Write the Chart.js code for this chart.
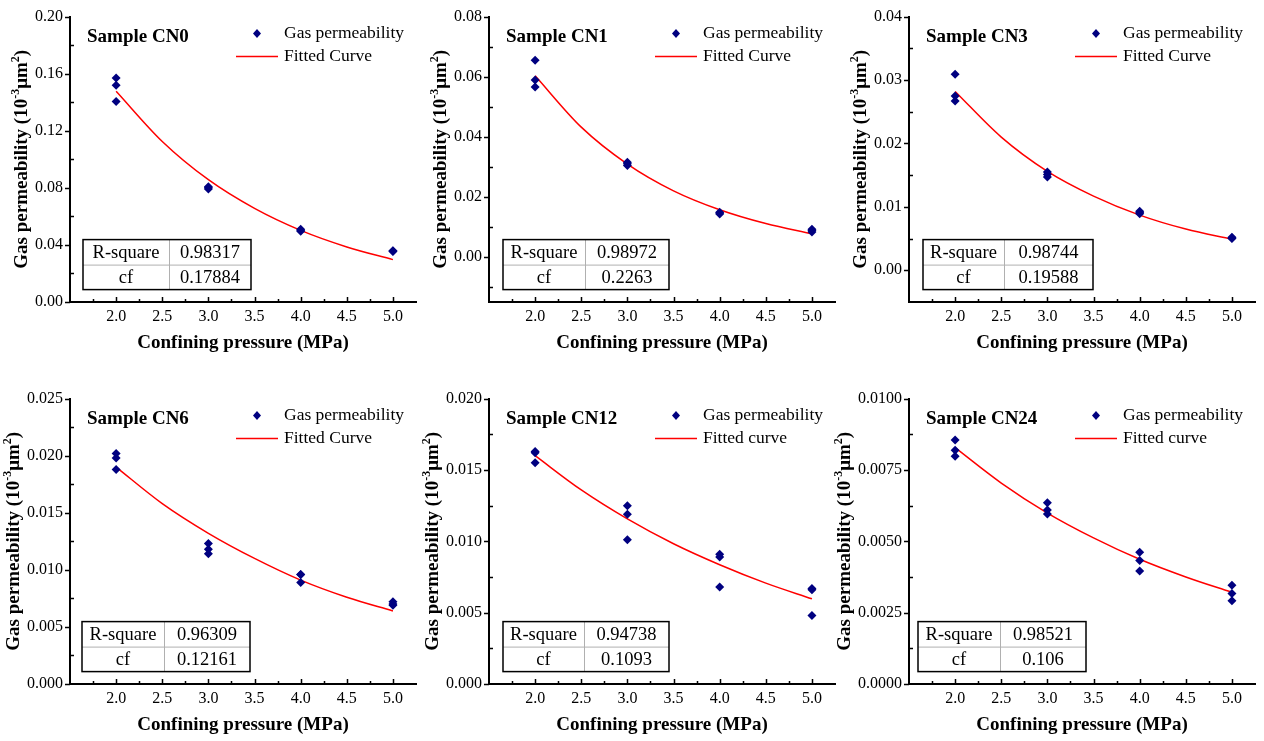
<!DOCTYPE html>
<html>
<head>
<meta charset="utf-8">
<script src="https://cdn.jsdelivr.net/npm/chart.js@4.4.0/dist/chart.umd.min.js"></script>
<style>
  body { margin: 0; background: #fff; width: 1264px; height: 741px; overflow: hidden; position: relative; }
  .panel { position: absolute; }
</style>
</head>
<body>
<div class="panel" style="left:0px;top:0px;width:421px;height:359px"><canvas id="c0"></canvas></div>
<div class="panel" style="left:420px;top:0px;width:421px;height:359px"><canvas id="c1"></canvas></div>
<div class="panel" style="left:830px;top:0px;width:434px;height:359px"><canvas id="c2"></canvas></div>
<div class="panel" style="left:0px;top:382px;width:421px;height:359px"><canvas id="c3"></canvas></div>
<div class="panel" style="left:420px;top:382px;width:421px;height:359px"><canvas id="c4"></canvas></div>
<div class="panel" style="left:830px;top:382px;width:434px;height:359px"><canvas id="c5"></canvas></div>

<script>
// ---- data ----
const samples = ['Sample CN0', 'Sample CN1', 'Sample CN3', 'Sample CN6', 'Sample CN12', 'Sample CN24'];
const fitNames = ['Fitted Curve', 'Fitted Curve', 'Fitted Curve', 'Fitted Curve', 'Fitted curve', 'Fitted curve'];
const rSquare = ['0.98317', '0.98972', '0.98744', '0.96309', '0.94738', '0.98521'];
const cfValues = ['0.17884', '0.2263', '0.19588', '0.12161', '0.1093', '0.106'];

const pressure = [2, 2, 2, 3, 3, 3, 4, 4, 4, 5, 5, 5];
const permCN0 = [0.1570, 0.1519, 0.1405, 0.0808, 0.0800, 0.0792, 0.0510, 0.0502, 0.0496, 0.0360, 0.0357, 0.0354];
const permCN1 = [0.0655, 0.0589, 0.0566, 0.0315, 0.0310, 0.0304, 0.0149, 0.0146, 0.0143, 0.0092, 0.0088, 0.0083];
const permCN3 = [0.0309, 0.0275, 0.0267, 0.0155, 0.0151, 0.0147, 0.0093, 0.0091, 0.0089, 0.0052, 0.0051, 0.0050];
const permCN6 = [0.0202, 0.0198, 0.0188, 0.0123, 0.0118, 0.0114, 0.0096, 0.0096, 0.0089, 0.0072, 0.0070, 0.0069];
const permCN12 = [0.0163, 0.0162, 0.0155, 0.0125, 0.0119, 0.0101, 0.0091, 0.0089, 0.0068, 0.0067, 0.0066, 0.0048];
const permCN24 = [0.00855, 0.00819, 0.00798, 0.00635, 0.00610, 0.00596, 0.00462, 0.00433, 0.00396, 0.00346, 0.00317, 0.00292];

const fitPressure = [2.0, 2.5, 3.0, 3.5, 4.0, 4.5, 5.0];
const fitCN0 = [0.1477, 0.1125, 0.0857, 0.0656, 0.0502, 0.0386, 0.0297];
const fitCN1 = [0.0603, 0.0432, 0.0309, 0.0220, 0.0157, 0.0111, 0.0077];
const fitCN3 = [0.0282, 0.0210, 0.0156, 0.0117, 0.0087, 0.0065, 0.0049];
const fitCN6 = [0.0190, 0.0158, 0.0132, 0.0110, 0.0091, 0.0076, 0.0064];
const fitCN12 = [0.0160, 0.0136, 0.01157, 0.00983, 0.00836, 0.00707, 0.00597];
const fitCN24 = [0.00828, 0.00704, 0.00599, 0.00512, 0.00437, 0.00375, 0.00321];

const xTicks = [2.0, 2.5, 3.0, 3.5, 4.0, 4.5, 5.0];
const yTicksCN0 = [0, 0.04, 0.08, 0.12, 0.16, 0.20];
const yTicksCN1 = [0, 0.02, 0.04, 0.06, 0.08];
const yTicksCN3 = [0, 0.01, 0.02, 0.03, 0.04];
const yTicksCN6 = [0, 0.005, 0.010, 0.015, 0.020, 0.025];
const yTicksCN12 = [0, 0.005, 0.010, 0.015, 0.020];
const yTicksCN24 = [0, 0.0025, 0.0050, 0.0075, 0.0100];
const yMin = [0, -0.015, -0.005, 0, 0, 0];
const yMax = [0.20, 0.08, 0.04, 0.025, 0.020, 0.0100];
const yDecimals = [2, 2, 2, 3, 3, 4];

const permSets = [permCN0, permCN1, permCN3, permCN6, permCN12, permCN24];
const fitSets = [fitCN0, fitCN1, fitCN3, fitCN6, fitCN12, fitCN24];
const yTickSets = [yTicksCN0, yTicksCN1, yTicksCN3, yTicksCN6, yTicksCN12, yTicksCN24];

// ---- layout ----
const axisWidth = [70, 69, 79, 70, 69, 79];
const padRight = [5, 6, 9, 5, 6, 9];
const tableCols = [[13, 99, 181], [14, 96, 180], [14, 95, 184], [12, 94, 180], [14, 95, 180], [9, 91, 177]];

const SERIF = '"Liberation Serif", "Times New Roman", serif';

// ticks, texts, legend and table
const decorPlugin = {
    id: 'decor',
    afterDraw(chart) {
        const i = chart.$idx;
        const ctx = chart.ctx;
        const a = chart.chartArea;
        const xs = chart.scales.x;
        const ys = chart.scales.y;
        ctx.save();

        // tick marks
        ctx.strokeStyle = '#000';
        ctx.lineWidth = 1.5;
        ctx.beginPath();
        const yt = yTickSets[i];
        const ystep = yt[1] - yt[0];
        yt.forEach(v => {
            const p = Math.round(ys.getPixelForValue(v)) + 0.5;
            ctx.moveTo(a.left - 5, p); ctx.lineTo(a.left, p);
        });
        const yMinor = [];
        yt.forEach(v => { yMinor.push(v - ystep / 2); });
        yMinor.push(yt[yt.length - 1] + ystep / 2);
        yMinor.forEach(v => {
            if (v <= ys.min + 1e-9 || v >= ys.max - 1e-9) return;
            const p = Math.round(ys.getPixelForValue(v)) + 0.5;
            ctx.moveTo(a.left, p); ctx.lineTo(a.left + 4, p);
        });
        xTicks.forEach(v => {
            const p = Math.round(xs.getPixelForValue(v)) + 0.5;
            ctx.moveTo(p, a.bottom); ctx.lineTo(p, a.bottom - 5);
            [v - 0.25, v + 0.25].forEach(m => {
                if (m <= xs.min + 1e-9 || m >= xs.max - 1e-9) return;
                const q = Math.round(xs.getPixelForValue(m)) + 0.5;
                ctx.moveTo(q, a.bottom); ctx.lineTo(q, a.bottom - 3);
            });
        });
        ctx.stroke();

        ctx.fillStyle = '#000';
        ctx.textBaseline = 'middle';

        // sample label
        ctx.font = 'bold 19px ' + SERIF;
        ctx.textAlign = 'left';
        ctx.fillText(samples[i], a.left + 17, a.top + 20);

        // legend
        ctx.font = '17.5px ' + SERIF;
        ctx.fillText('Gas permeability', a.left + 214, a.top + 17);
        ctx.fillText(fitNames[i], a.left + 214, a.top + 40);
        const dx = a.left + 187, dy = a.top + 17;
        ctx.fillStyle = '#000080';
        ctx.beginPath();
        ctx.moveTo(dx, dy - 4.5); ctx.lineTo(dx + 4, dy); ctx.lineTo(dx, dy + 4.5); ctx.lineTo(dx - 4, dy);
        ctx.closePath(); ctx.fill();
        ctx.strokeStyle = '#ff0000';
        ctx.lineWidth = 1.5;
        ctx.beginPath();
        ctx.moveTo(a.left + 166, a.top + 40); ctx.lineTo(a.left + 208, a.top + 40);
        ctx.stroke();

        // fit table
        const [c0, c1, c2] = tableCols[i].map(c => a.left + c);
        const t0 = a.top + 223, rh = 25;
        ctx.fillStyle = '#fff';
        ctx.fillRect(c0, t0, c2 - c0, rh * 2);
        ctx.strokeStyle = '#b0b0b0';
        ctx.lineWidth = 1;
        ctx.beginPath();
        ctx.moveTo(c0, t0 + rh + 0.5); ctx.lineTo(c2, t0 + rh + 0.5);
        ctx.moveTo(c1 + 0.5, t0); ctx.lineTo(c1 + 0.5, t0 + rh * 2);
        ctx.stroke();
        ctx.strokeStyle = '#000';
        ctx.lineWidth = 1.5;
        ctx.strokeRect(c0, t0, c2 - c0, rh * 2);
        ctx.fillStyle = '#000';
        ctx.font = '18.5px ' + SERIF;
        ctx.textAlign = 'center';
        ctx.fillText('R-square', (c0 + c1) / 2, t0 + rh / 2 + 1);
        ctx.fillText(rSquare[i], (c1 + c2) / 2, t0 + rh / 2 + 1);
        ctx.fillText('cf', (c0 + c1) / 2, t0 + rh * 1.5 + 1);
        ctx.fillText(cfValues[i], (c1 + c2) / 2, t0 + rh * 1.5 + 1);

        // x title
        ctx.font = 'bold 19px ' + SERIF;
        ctx.fillText('Confining pressure (MPa)', (a.left + a.right) / 2, a.bottom + 41);

        // y title with superscripts
        ctx.font = '16px ' + SERIF;
        const labW = Math.max(...yt.map(v => ctx.measureText(v.toFixed(yDecimals[i])).width));
        const tx = a.left - 7 - labW - 12.5;
        const ty = (a.top + a.bottom) / 2;
        const parts = [['Gas permeability (10', 19, 0], ['-3', 12, -7], ['\u03bcm', 19, 0], ['2', 12, -7], [')', 19, 0]];
        let total = 0;
        parts.forEach(p => { ctx.font = 'bold ' + p[1] + 'px ' + SERIF; p.push(ctx.measureText(p[0]).width); total += p[3]; });
        ctx.translate(tx, ty);
        ctx.rotate(-Math.PI / 2);
        ctx.textAlign = 'left';
        let cx = -total / 2;
        parts.forEach(p => {
            ctx.font = 'bold ' + p[1] + 'px ' + SERIF;
            ctx.fillText(p[0], cx, p[2]);
            cx += p[3];
        });
        ctx.restore();
    }
};

for (let i = 0; i < 6; i++) {
    const el = document.getElementById('c' + i);
    const chart = new Chart(el, {
        type: 'scatter',
        data: {
            datasets: [{
                label: 'Gas permeability',
                data: pressure.map((p, k) => ({ x: p, y: permSets[i][k] })),
                pointStyle: 'rectRot',
                pointRadius: 4.5,
                pointBackgroundColor: '#000080',
                pointBorderColor: '#000080',
                pointBorderWidth: 0,
                order: 1
            }, {
                label: fitNames[i],
                type: 'line',
                data: fitPressure.map((p, k) => ({ x: p, y: fitSets[i][k] })),
                borderColor: '#ff0000',
                borderWidth: 1.5,
                pointRadius: 0,
                fill: false,
                cubicInterpolationMode: 'monotone',
                order: 2
            }]
        },
        options: {
            responsive: true,
            maintainAspectRatio: false,
            animation: false,
            layout: { padding: { top: 15, right: padRight[i], left: 0, bottom: 0 } },
            plugins: {
                legend: { display: false },
                tooltip: { enabled: false }
            },
            scales: {
                x: {
                    type: 'linear',
                    min: 1.5,
                    max: 5.25,
                    afterBuildTicks: s => { s.ticks = xTicks.map(v => ({ value: v })); },
                    afterFit: s => { s.height = 57; },
                    grid: { display: false, drawTicks: false },
                    border: { display: true, color: '#000', width: 2 },
                    ticks: {
                        padding: 5,
                        color: '#000',
                        font: { family: SERIF, size: 16 },
                        maxRotation: 0,
                        callback: v => v.toFixed(1)
                    }
                },
                y: {
                    min: yMin[i],
                    max: yMax[i],
                    afterBuildTicks: s => { s.ticks = yTickSets[i].map(v => ({ value: v })); },
                    afterFit: s => { s.width = axisWidth[i]; },
                    grid: { display: false, drawTicks: false },
                    border: { display: true, color: '#000', width: 2 },
                    ticks: {
                        padding: 7,
                        color: '#000',
                        font: { family: SERIF, size: 16 },
                        callback: v => v.toFixed(yDecimals[i])
                    }
                }
            }
        },
        plugins: [{ id: 'idx', beforeInit(c) { c.$idx = i; } }, decorPlugin]
    });
}
</script>
</body>
</html>
